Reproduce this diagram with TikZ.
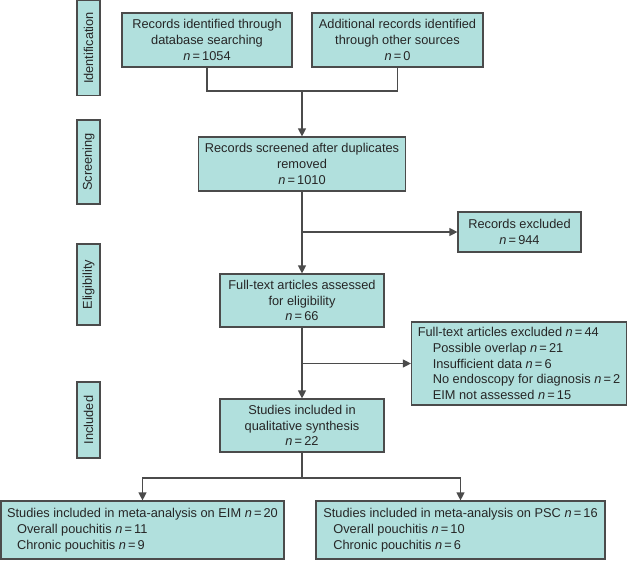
\documentclass[tikz,border=0pt]{standalone}
\usepackage{fontspec}
\setmainfont{Liberation Sans}
\usetikzlibrary{arrows.meta}
\definecolor{boxfill}{RGB}{177,224,221}
\definecolor{boxline}{RGB}{75,75,75}
\newcommand{\nn}[1]{\textit{n}\,=\,#1}
\tikzset{
  box/.style={draw=boxline,fill=boxfill,line width=1.2pt,inner sep=3pt,align=center,
    font=\fontsize{12.8}{15.7}\selectfont,text=black!85},
  listbox/.style={box,align=left},
  phase/.style={box,rotate=90,minimum height=23pt,inner sep=0pt},
  link/.style={draw=boxline,line width=1.2pt},
  arr/.style={link,-{Triangle[length=8pt,width=8pt]}}
}
\begin{document}
\begin{tikzpicture}[x=1pt,y=-1pt]
	\useasboundingbox (0,0) rectangle (628,560);
	% phases
	\node[phase,minimum width=95pt] (identification) at (88.5,48) {Identification};
	\node[phase,minimum width=84pt] (screening) at (88.5,162) {Screening};
	\node[phase,minimum width=81pt] (eligibility) at (88.5,284.5) {Eligibility};
	\node[phase,minimum width=76pt] (included) at (88.5,420) {Included};
	% boxes
	\node[box,minimum width=170pt,minimum height=54pt] (db) at (207,40) {Records identified through\\database searching\\\nn{1054}};
	\node[box,minimum width=171pt,minimum height=54pt] (other) at (397.5,40) {Additional records identified\\through other sources\\\nn{0}};
	\node[box,minimum width=207pt,minimum height=54pt] (screen) at (302,164) {Records screened after duplicates\\removed\\\nn{1010}};
	\node[box,minimum width=123pt,minimum height=40pt] (excl1) at (519.5,232) {Records excluded\\\nn{944}};
	\node[box,minimum width=164pt,minimum height=53pt] (full) at (302,300.5) {Full-text articles assessed\\for eligibility\\\nn{66}};
	\node[listbox,minimum width=215pt,minimum height=83pt] (excl2) at (519,363.5) {Full-text articles excluded \nn{44}\\
		\hspace*{15pt}Possible overlap \nn{21}\\
		\hspace*{15pt}Insufficient data \nn{6}\\
		\hspace*{15pt}No endoscopy for diagnosis \nn{2}\\
		\hspace*{15pt}EIM not assessed \nn{15}};
	\node[box,minimum width=164pt,minimum height=53pt] (qual) at (302,425.5) {Studies included in\\qualitative synthesis\\\nn{22}};
	\node[listbox,minimum width=283pt,minimum height=58pt] (eim) at (142.5,530) {Studies included in meta-analysis on EIM \nn{20}\\
		\hspace*{10pt}Overall pouchitis \nn{11}\\
		\hspace*{10pt}Chronic pouchitis \nn{9}};
	\node[listbox,minimum width=289pt,minimum height=58pt] (psc) at (460.5,530) {Studies included in meta-analysis on PSC \nn{16}\\
		\hspace*{10pt}Overall pouchitis \nn{10}\\
		\hspace*{10pt}Chronic pouchitis \nn{6}};
	% connectors
	\coordinate (merge) at (302,91);
	\coordinate (split) at (302,478);
	\draw[link] (db.south) |- (merge);
	\draw[link] (other.south) |- (merge);
	\draw[arr] (merge) -- (screen.north);
	\draw[arr] (screen.south) -- (full.north);
	\draw[arr] (screen.south |- excl1.west) -- (excl1.west);
	\draw[arr] (full.south) -- (qual.north);
	\draw[arr] (full.south |- excl2.west) -- (excl2.west);
	\draw[link] (qual.south) -- (split);
	\draw[arr] (split) -| (eim.north);
	\draw[arr] (split) -| (psc.north);
\end{tikzpicture}
\end{document}
